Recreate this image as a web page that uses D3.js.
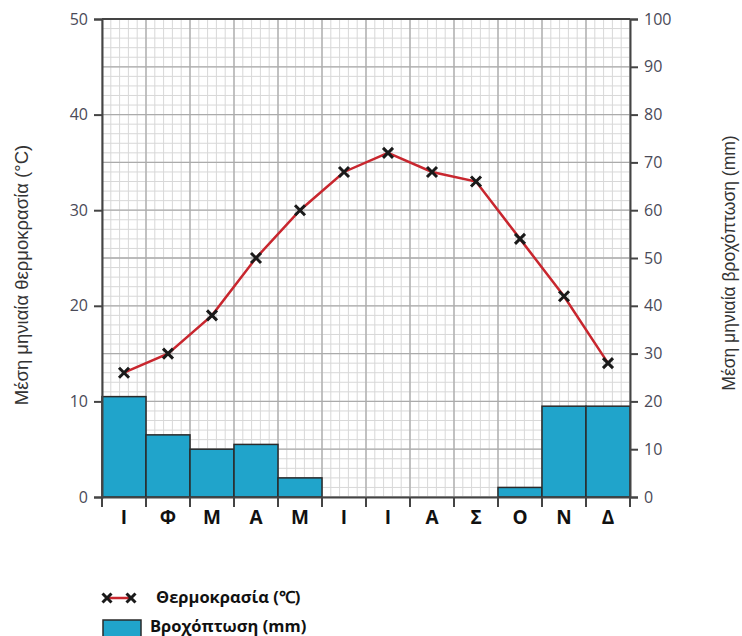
<!DOCTYPE html>
<html><head><meta charset="utf-8">
<script src="https://cdn.jsdelivr.net/npm/d3@7"></script>
<style>body{margin:0;background:#fff}</style>
</head><body>
<svg id="c" width="742" height="636"></svg>
<script>
const months = ["Ι","Φ","Μ","Α","Μ","Ι","Ι","Α","Σ","Ο","Ν","Δ"];
const temperature = [13,15,19,25,30,34,36,34,33,27,21,14];
const rainfall = [21,13,10,11,4,0,0,0,0,2,19,19];
const tempTicks = [0,10,20,30,40,50];
const rainTicks = [0,10,20,30,40,50,60,70,80,90,100];

const svg = d3.select("#c");
const L=102,R=630,T=19,B=497;
const x = d3.scaleBand().domain(d3.range(12)).range([L,R]).padding(0);
const yT = d3.scaleLinear().domain([0,50]).range([B,T]);
const yR = d3.scaleLinear().domain([0,100]).range([B,T]);
const xm = d3.scaleLinear().domain([0,60]).range([L,R]);

const g = svg.append("g");
g.selectAll(".hm").data(d3.range(0,51)).join("line")
 .attr("x1",L).attr("x2",R).attr("y1",d=>yT(d)).attr("y2",d=>yT(d))
 .attr("stroke","#d8d8d8").attr("stroke-width",1);
g.selectAll(".vm").data(d3.range(0,61)).join("line")
 .attr("y1",T).attr("y2",B).attr("x1",d=>xm(d)).attr("x2",d=>xm(d))
 .attr("stroke","#d8d8d8").attr("stroke-width",1);
g.selectAll(".hM").data(d3.range(0,51,5)).join("line")
 .attr("x1",L).attr("x2",R).attr("y1",d=>yT(d)).attr("y2",d=>yT(d))
 .attr("stroke","#ababab").attr("stroke-width",1.3);
g.selectAll(".vM").data(d3.range(0,61,5)).join("line")
 .attr("y1",T).attr("y2",B).attr("x1",d=>xm(d)).attr("x2",d=>xm(d))
 .attr("stroke","#ababab").attr("stroke-width",1.3);

// bars
svg.selectAll(".bar").data(rainfall).join("rect")
 .attr("x",(d,i)=>x(i)).attr("width",x.bandwidth())
 .attr("y",d=>yR(d)).attr("height",d=>B-yR(d))
 .attr("fill","#20a4cb").attr("stroke","#2a2a2a").attr("stroke-width",1.5)
 .attr("display",d=>d>0?null:"none");

// axes
const tickCol="#4a4a58";
const la = svg.append("g").attr("transform",`translate(${L},0)`)
 .call(d3.axisLeft(yT).tickValues(tempTicks).tickSize(8).tickPadding(6));
const ra = svg.append("g").attr("transform",`translate(${R},0)`)
 .call(d3.axisRight(yR).tickValues(rainTicks).tickSize(8).tickPadding(6));
[la,ra].forEach(a=>{
 a.select(".domain").attr("stroke","#444").attr("stroke-width",2);
 a.selectAll(".tick line").attr("stroke","#444").attr("stroke-width",2);
 a.selectAll("text").attr("fill",tickCol).attr("font-family","'Open Sans', 'Liberation Sans', sans-serif").attr("font-size",16);
});
svg.append("line").attr("x1",L).attr("x2",R).attr("y1",T).attr("y2",T).attr("stroke","#444").attr("stroke-width",2);
const ba = svg.append("g").attr("transform",`translate(0,${B})`)
 .call(d3.axisBottom(x).tickSize(0).tickFormat(i=>months[i]).tickPadding(14));
ba.select(".domain").attr("stroke","#444").attr("stroke-width",2);
ba.selectAll("text").attr("fill","#111").attr("font-family","'Open Sans', 'Liberation Sans', sans-serif").attr("font-weight","bold").attr("font-size",19);
svg.append("g").selectAll("line").data(d3.range(0,13)).join("line")
 .attr("x1",d=>L+d*x.step()).attr("x2",d=>L+d*x.step()).attr("y1",B).attr("y2",B+10)
 .attr("stroke","#444").attr("stroke-width",2);

// temperature line
const cx = i=>x(i)+x.bandwidth()/2;
svg.append("path").datum(temperature)
 .attr("d",d3.line().x((d,i)=>cx(i)).y(d=>yT(d)))
 .attr("fill","none").attr("stroke","#c8262e").attr("stroke-width",2.5);
const cross = (sel,s)=>sel.attr("d",`M${-s},${-s}L${s},${s}M${-s},${s}L${s},${-s}`)
 .attr("stroke","#1a1a1a").attr("stroke-width",3).attr("fill","none");
svg.selectAll(".mk").data(temperature).join("path")
 .attr("transform",(d,i)=>`translate(${cx(i)},${yT(d)})`).call(cross,5);

// axis titles
svg.append("text").attr("transform","translate(28,275) rotate(-90)")
 .attr("text-anchor","middle").attr("font-family","'Liberation Sans', Arial, sans-serif").attr("font-size",18.5).attr("fill","#333")
 .text("Μέση μηνιαία θερμοκρασία (°C)");
svg.append("text").attr("transform","translate(735,263) rotate(-90)")
 .attr("text-anchor","middle").attr("font-family","'Liberation Sans', Arial, sans-serif").attr("font-size",17.5).attr("fill","#333")
 .text("Μέση μηνιαία βροχόπτωση (mm)");

// legend
const lg = svg.append("g");
lg.append("line").attr("x1",107).attr("x2",131).attr("y1",598).attr("y2",598).attr("stroke","#c8262e").attr("stroke-width",2.5);
lg.append("path").attr("transform","translate(107,598)").call(cross,4.5);
lg.append("path").attr("transform","translate(131,598)").call(cross,4.5);
lg.append("text").attr("x",156).attr("y",603).attr("font-family","'Open Sans', 'Liberation Sans', sans-serif").attr("font-weight","bold").attr("font-size",16.5).attr("fill","#111").text("Θερμοκρασία (℃)");
lg.append("rect").attr("x",103).attr("y",620).attr("width",38).attr("height",20).attr("fill","#20a4cb").attr("stroke","#2a2a2a").attr("stroke-width",1.5);
lg.append("text").attr("x",150).attr("y",632).attr("font-family","'Open Sans', 'Liberation Sans', sans-serif").attr("font-weight","bold").attr("font-size",16.5).attr("fill","#111").text("Βροχόπτωση (mm)");
</script>
</body></html>
